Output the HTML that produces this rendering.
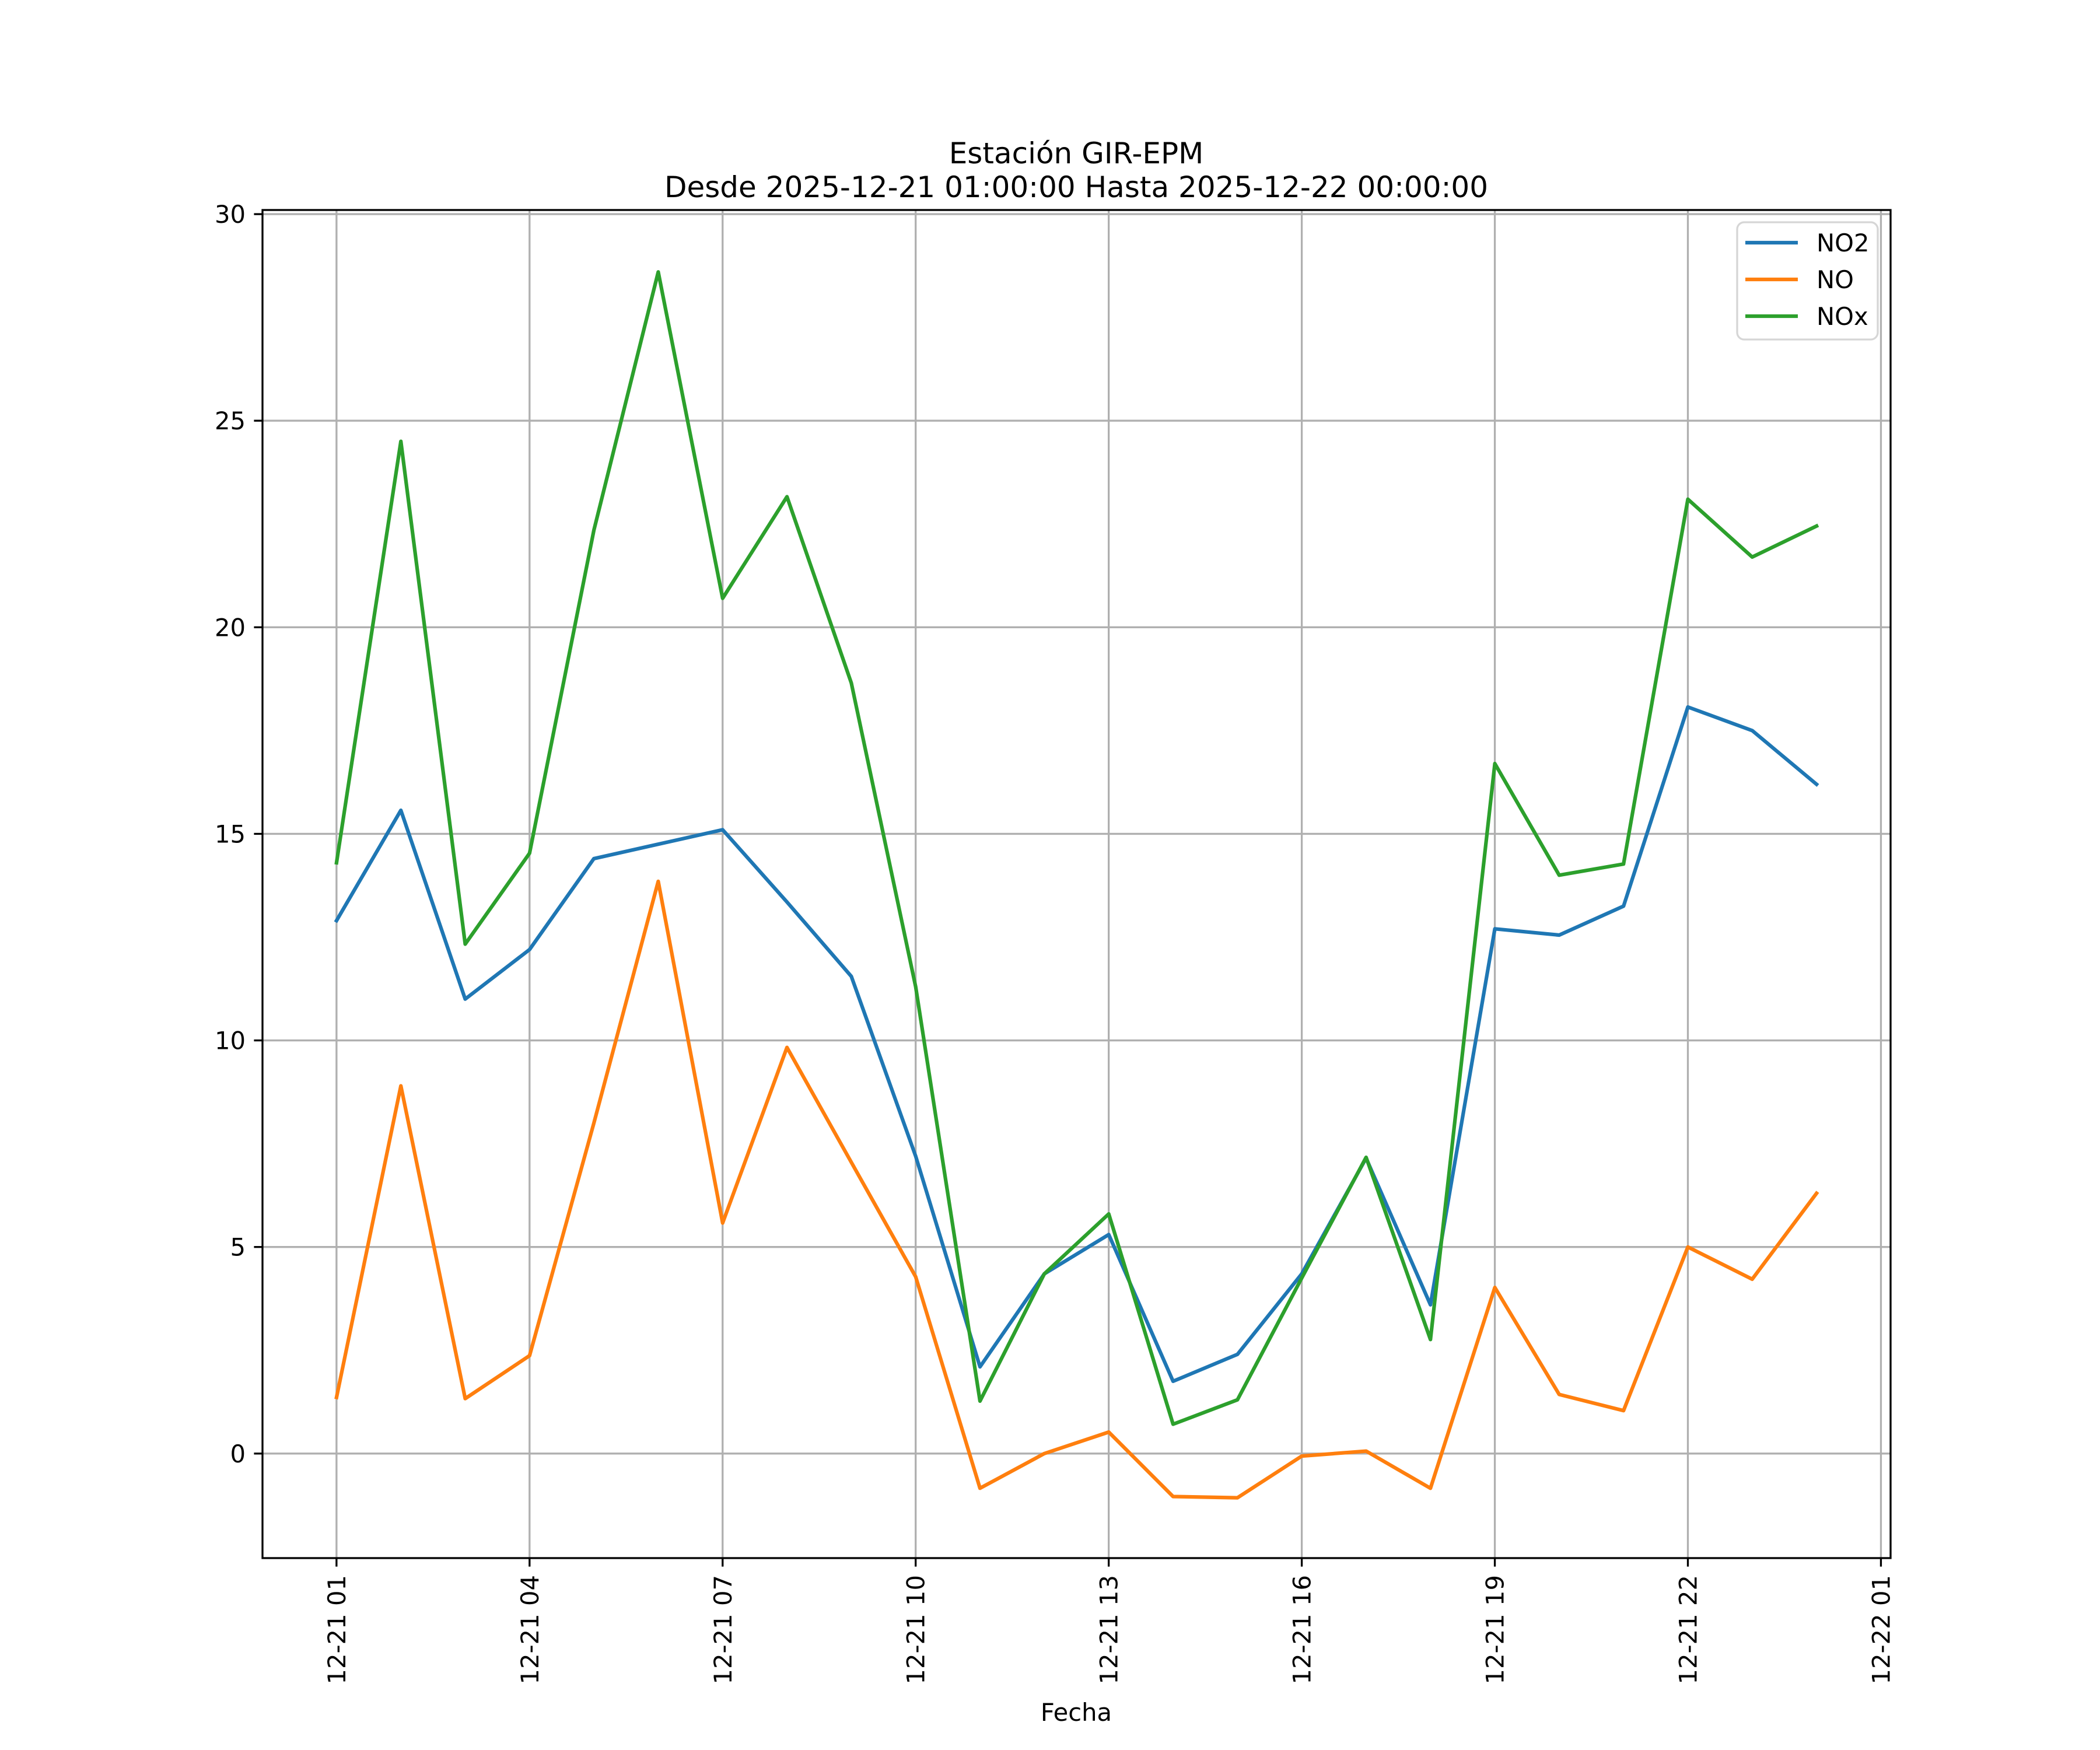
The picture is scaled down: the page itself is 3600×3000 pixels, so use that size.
<!DOCTYPE html>
<html><head><meta charset="utf-8"><style>html,body{margin:0;padding:0;background:#fff}svg{display:block}text{font-family:"DejaVu Sans","Liberation Sans",sans-serif}</style></head>
<body>
<svg id="chart" width="3600" height="3000" viewBox="0 0 3600 3000" xmlns="http://www.w3.org/2000/svg">
<rect width="3600" height="3000" fill="#fff"/>
<g id="grid"></g>
<g id="series"></g>
<rect x="450" y="360" width="2791" height="2311" fill="none" stroke="#000" stroke-width="3.3"/>
<g id="ticks"></g>
<text x="1845" y="280" font-size="50" text-anchor="middle">Estación GIR-EPM</text>
<text x="1845" y="338" font-size="50" text-anchor="middle">Desde 2025-12-21 01:00:00 Hasta 2025-12-22 00:00:00</text>
<text x="1845" y="2950" font-size="41.7" text-anchor="middle">Fecha</text>
<g>
<rect x="2978" y="381" width="241" height="201" rx="12" fill="#fff" fill-opacity="0.8" stroke="#d6d6d6" stroke-width="3.3"/>
<line x1="2992" y1="416" x2="3082" y2="416" stroke="#1f77b4" stroke-width="6.25"/>
<text x="3114" y="431" font-size="41.7">NO2</text>
<line x1="2992" y1="479" x2="3082" y2="479" stroke="#ff7f0e" stroke-width="6.25"/>
<text x="3114" y="494" font-size="41.7">NO</text>
<line x1="2992" y1="542" x2="3082" y2="542" stroke="#2ca02c" stroke-width="6.25"/>
<text x="3114" y="557" font-size="41.7">NOx</text>
</g>
</svg>
<script>
const hours = [0,1,2,3,4,5,6,7,8,9,10,11,12,13,14,15,16,17,18,19,20,21,22,23];
const no2 = [12.9,15.57,11.0,12.2,14.4,14.75,15.1,13.35,11.55,7.2,2.1,4.35,5.3,1.75,2.4,4.35,7.15,3.6,12.7,12.55,13.25,18.07,17.5,16.2];
const no = [1.36,8.9,1.33,2.37,8.0,13.85,5.58,9.83,7.05,4.28,-0.84,0,0.52,-1.04,-1.07,-0.06,0.06,-0.84,4.02,1.43,1.04,5.0,4.22,6.3];
const nox = [14.3,24.5,12.33,14.53,22.35,28.6,20.7,23.16,18.65,11.3,1.27,4.35,5.8,0.71,1.3,4.25,7.17,2.76,16.7,14.0,14.27,23.1,21.7,22.45];
const xTickHours = [0,3,6,9,12,15,18,21,24];
const xTickLabels = ["12-21 01","12-21 04","12-21 07","12-21 10","12-21 13","12-21 16","12-21 19","12-21 22","12-22 01"];
const yTicks = [0,5,10,15,20,25,30];

const NS="http://www.w3.org/2000/svg";
const L=450,R=3241,T=360,B=2671, x0=-1.15,x1=24.15,y0=-2.53,y1=30.1;
function sx(h){return L+(h-x0)/(x1-x0)*(R-L);}
function sy(v){return B-(v-y0)/(y1-y0)*(B-T);}
function mk(tag,attrs,parent){const e=document.createElementNS(NS,tag);for(const k in attrs)e.setAttribute(k,attrs[k]);parent.appendChild(e);return e;}
const grid=document.getElementById('grid'),ticks=document.getElementById('ticks'),series=document.getElementById('series');
xTickHours.forEach((h,i)=>{
  const x=sx(h);
  const g=mk('line',{x1:x,y1:T,x2:x,y2:B,stroke:'#b0b0b0','stroke-width':3.3},grid);
  
  
  const t=mk('line',{x1:x,y1:B,x2:x,y2:B+14.6,stroke:'#000','stroke-width':3.3},ticks);
  
  
  const tx=mk('text',{x:0,y:0,'font-size':41.7,'text-anchor':'end',transform:`translate(${x+15},${B+29}) rotate(-90)`},ticks);
  tx.textContent=xTickLabels[i];
  
  
});
yTicks.forEach(v=>{
  const y=sy(v);
  const g=mk('line',{x1:L,y1:y,x2:R,y2:y,stroke:'#b0b0b0','stroke-width':3.3},grid);
  
  
  const t=mk('line',{x1:L-14.6,y1:y,x2:L,y2:y,stroke:'#000','stroke-width':3.3},ticks);
  
  
  const tx=mk('text',{x:L-29,y:y+15,'font-size':41.7,'text-anchor':'end'},ticks);
  tx.textContent=String(v);
  
  
});
[[no2,'#1f77b4','no2-line'],[no,'#ff7f0e','no-line'],[nox,'#2ca02c','nox-line']].forEach(([d,c,n])=>{
  const pts=d.map((v,i)=>sx(hours[i]).toFixed(1)+','+sy(v).toFixed(1)).join(' ');
  const p=mk('polyline',{points:pts,fill:'none',stroke:c,'stroke-width':6.25,'stroke-linejoin':'round','stroke-linecap':'square'},series);
  
  
});
</script>
</body></html>
